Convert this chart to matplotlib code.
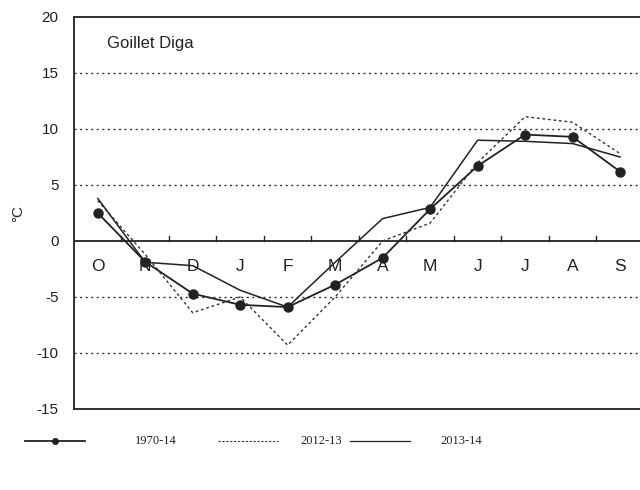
import numpy as np
import matplotlib.pyplot as plt
from matplotlib.lines import Line2D

plt.rcParams['font.family'] = ['Liberation Sans', 'DejaVu Sans']
plt.rcParams['axes.unicode_minus'] = False

months = ['O', 'N', 'D', 'J', 'F', 'M', 'A', 'M', 'J', 'J', 'A', 'S']
t_1970_14 = [2.5, -1.85, -4.7, -5.7, -5.9, -3.9, -1.5, 2.85, 6.7, 9.5, 9.3, 6.2]
t_2012_13 = [3.6, -1.2, -6.4, -5.0, -9.3, -5.0, 0.0, 1.6, 7.0, 11.1, 10.6, 7.8]
t_2013_14 = [3.8, -1.9, -2.2, -4.4, -5.9, -1.9, 2.0, 3.0, 9.0, 8.9, 8.7, 7.5]
series_names = ['1970-14', '2012-13', '2013-14']

x = np.arange(len(months))

fig = plt.figure(figsize=(6.4, 4.9), dpi=100)
ax = fig.add_axes([74/640, 81/490, 1 - 74/640, 392/490])

for yv in [-10, -5, 5, 10, 15]:
    ax.axhline(yv, color='#333333', lw=1.0, ls=(0, (1.5, 2.5)), zorder=1)
ax.axhline(0, color='#222222', lw=1.3, zorder=2)

# small ticks on zero line at month boundaries
for b in np.arange(0.5, 11.5, 1):
    ax.plot([b, b], [0, 0.45], color='#222222', lw=1.0, zorder=2)

ax.plot(x, t_2012_13, color='#333333', lw=1.0, ls=(0, (2, 2)), zorder=3)
ax.plot(x, t_2013_14, color='#222222', lw=1.1, zorder=3)
ax.plot(x, t_1970_14, color='#222222', lw=1.3, marker='o', ms=6.5, zorder=4)

for i, m in enumerate(months):
    ax.text(x[i], -2.3, m, ha='center', va='center', fontsize=12.5, color='#222222', zorder=5)

ax.text(0.2, 17.2, 'Goillet Diga', fontsize=12, color='#222222')

ax.set_xlim(-0.5, 11.42)
ax.set_ylim(-15, 20)
ax.set_yticks([-15, -10, -5, 0, 5, 10, 15, 20])
ax.tick_params(axis='y', length=0, labelsize=11, pad=11, colors='#222222')
ax.set_xticks([])
ax.spines['right'].set_visible(False)
for s in ['left', 'top', 'bottom']:
    ax.spines[s].set_linewidth(1.3)
    ax.spines[s].set_color('#222222')
ax.set_ylabel('°C', fontsize=11, color='#222222', labelpad=8)

# legend drawn by hand to match the uneven spacing of the original
ly = 1 - 441/490
leg = [
    dict(x0=25, x1=85, tx=135, kw=dict(color='#222222', lw=1.3, marker='o', ms=4, markevery=[1])),
    dict(x0=218, x1=278, tx=300, kw=dict(color='#333333', lw=0.8, ls=(0, (2, 1.5)))),
    dict(x0=350, x1=410, tx=440, kw=dict(color='#222222', lw=0.9)),
]
for name, d in zip(series_names, leg):
    xs = [d['x0']/640, (d['x0'] + d['x1'])/2/640, d['x1']/640]
    fig.add_artist(Line2D(xs, [ly]*3, transform=fig.transFigure, **d['kw']))
    fig.text(d['tx']/640, ly, name, va='center', ha='left',
             family='Liberation Serif', fontsize=9, color='#222222')

fig.savefig('out.png', dpi=100)
